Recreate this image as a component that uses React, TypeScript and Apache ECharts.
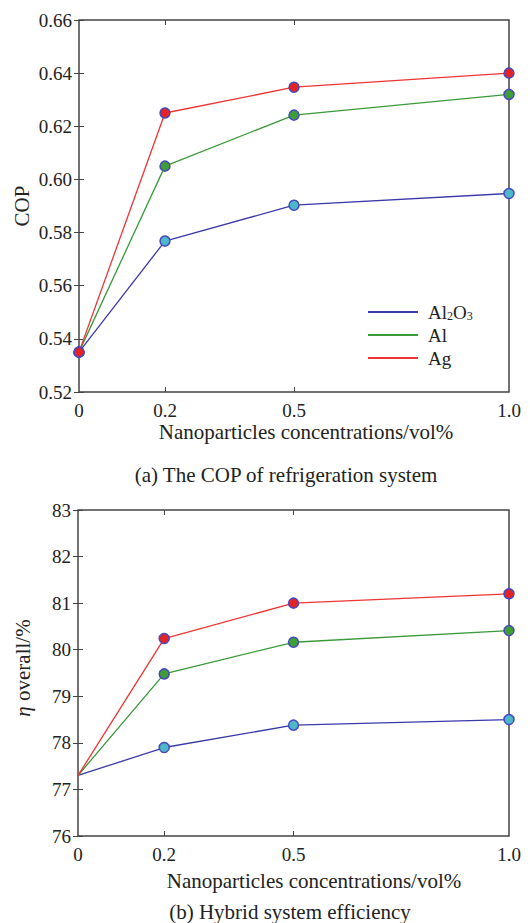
import React, { useEffect, useRef } from "react";
import * as echarts from "echarts";

const concentrations = [0, 0.2, 0.5, 1.0];
const xTickLabels = [0, 0.2, 0.5, 1.0];
const seriesNames = ["Al2O3", "Al", "Ag"];
const copAl2O3 = [0.535, 0.5768, 0.5903, 0.5947];
const copAl = [0.535, 0.605, 0.6242, 0.632];
const copAg = [0.535, 0.625, 0.6347, 0.640];
const effAl2O3 = [77.3, 77.9, 78.38, 78.5];
const effAl = [77.3, 79.48, 80.16, 80.41];
const effAg = [77.3, 80.24, 81.0, 81.2];

const lineColors = ["#3a3aaa", "#3a9a3a", "#f03434"];
const fillColors = ["#4cb8c8", "#3d9e35", "#e42424"];
const FONT = "Liberation Serif";
const TXT = "#222";

export default function App() {
  const ref = useRef<HTMLDivElement>(null);
  useEffect(() => {
    document.body.style.margin = "0";
    const chart = echarts.init(ref.current!, null, { renderer: "svg" });
    const mk = (name: string, i: number, data: number[], axisIdx: number, hideFirst: boolean) => ({
      type: "line",
      name,
      xAxisIndex: axisIdx,
      yAxisIndex: axisIdx,
      data: concentrations.map((x, k) =>
        hideFirst && k === 0 ? { value: [x, data[k]], symbol: "none" } : { value: [x, data[k]] }
      ),
      symbol: "circle",
      symbolSize: 10,
      lineStyle: { color: lineColors[i], width: 1.3 },
      itemStyle: { color: fillColors[i], borderColor: "#4848c0", borderWidth: 1.5 },
      z: 3 + i,
    });
    const xAxisMain = (grid: number) => ({
      type: "value",
      gridIndex: grid,
      min: 0,
      max: 1,
      position: "bottom",
      axisLine: { show: false },
      splitLine: { show: false },
      axisTick: { inside: true, length: 5, customValues: [0.2, 0.5], lineStyle: { color: "#444" } },
      axisLabel: {
        customValues: xTickLabels,
        formatter: (v: number) => (v === 0 ? "0" : v.toFixed(1)),
        fontFamily: FONT,
        fontSize: 19,
        color: TXT,
        margin: 9,
      },
    });
    const xAxisTop = (grid: number) => ({
      type: "value",
      gridIndex: grid,
      min: 0,
      max: 1,
      position: "top",
      axisLine: { show: false },
      splitLine: { show: false },
      axisTick: { inside: true, length: 5, customValues: [0.2, 0.5], lineStyle: { color: "#444" } },
      axisLabel: { show: false },
    });
    const yAxis = (grid: number, min: number, max: number, interval: number, dec: number, pos: string) => ({
      type: "value",
      gridIndex: grid,
      min,
      max,
      interval,
      position: pos,
      axisLine: { show: false },
      splitLine: { show: false },
      axisTick: { inside: true, length: 5, lineStyle: { color: "#444" } },
      axisLabel: {
        show: pos === "left",
        formatter: (v: number) => v.toFixed(dec),
        fontFamily: FONT,
        fontSize: 19,
        color: TXT,
        margin: 7,
      },
    });
    chart.setOption({
      animation: false,
      backgroundColor: "#fff",
      grid: [
        { left: 79, right: 21, top: 20, height: 372, show: true, borderColor: "#444", borderWidth: 1.5, backgroundColor: "transparent" },
        { left: 78, right: 21, top: 510, height: 326, show: true, borderColor: "#444", borderWidth: 1.5, backgroundColor: "transparent" },
      ],
      xAxis: [xAxisMain(0), xAxisMain(1), xAxisTop(0), xAxisTop(1)],
      yAxis: [
        yAxis(0, 0.52, 0.66, 0.02, 2, "left"),
        yAxis(1, 76, 83, 1, 0, "left"),
        yAxis(0, 0.52, 0.66, 0.02, 2, "right"),
        yAxis(1, 76, 83, 1, 0, "right"),
      ],
      legend: {
        orient: "vertical",
        left: 363,
        top: 297,
        itemWidth: 50,
        itemHeight: 2,
        itemGap: 3,
        icon: "rect",
        data: seriesNames.map((n, i) => ({ name: n, itemStyle: { color: lineColors[i], borderWidth: 0 } })),
        formatter: (n: string) => (n === "Al2O3" ? "{n|Al}{s|2}{n|O}{s|3}" : "{n|" + n + "}"),
        textStyle: {
          fontFamily: FONT,
          fontSize: 19,
          color: TXT,
          lineHeight: 20,
          padding: [0, 0, 0, 5],
          rich: {
            n: { fontFamily: FONT, fontSize: 19, color: TXT, lineHeight: 20 },
            s: { fontFamily: FONT, fontSize: 12, color: TXT, lineHeight: 20, padding: [8, 0, 0, 0] },
          },
        },
      },
      series: [
        mk(seriesNames[0], 0, copAl2O3, 0, false),
        mk(seriesNames[1], 1, copAl, 0, false),
        mk(seriesNames[2], 2, copAg, 0, false),
        mk(seriesNames[0], 0, effAl2O3, 1, true),
        mk(seriesNames[1], 1, effAl, 1, true),
        mk(seriesNames[2], 2, effAg, 1, true),
      ],
      graphic: [
        { type: "text", x: 22, y: 206, rotation: Math.PI / 2, style: { text: "COP", font: `21px "${FONT}"`, fill: TXT, align: "center", verticalAlign: "middle" } },
        {
          type: "text", x: 23, y: 668, rotation: Math.PI / 2,
          style: {
            text: "{i|η} overall/%", align: "center", verticalAlign: "middle", fill: TXT,
            font: `21px "${FONT}"`,
            rich: { i: { fontFamily: FONT, fontSize: 21, fontStyle: "italic", fill: TXT } },
          },
        },
        { type: "text", x: 306, y: 432, style: { text: "Nanoparticles concentrations/vol%", font: `21px "${FONT}"`, fill: TXT, align: "center", verticalAlign: "middle" } },
        { type: "text", x: 286, y: 475, style: { text: "(a) The COP of refrigeration system", font: `21px "${FONT}"`, fill: TXT, align: "center", verticalAlign: "middle" } },
        { type: "text", x: 314, y: 881, style: { text: "Nanoparticles concentrations/vol%", font: `21px "${FONT}"`, fill: TXT, align: "center", verticalAlign: "middle" } },
        { type: "text", x: 290, y: 912, style: { text: "(b) Hybrid system efficiency", font: `21px "${FONT}"`, fill: TXT, align: "center", verticalAlign: "middle" } },
      ],
    });
    return () => chart.dispose();
  }, []);
  return <div ref={ref} style={{ width: 530, height: 923 }} />;
}
